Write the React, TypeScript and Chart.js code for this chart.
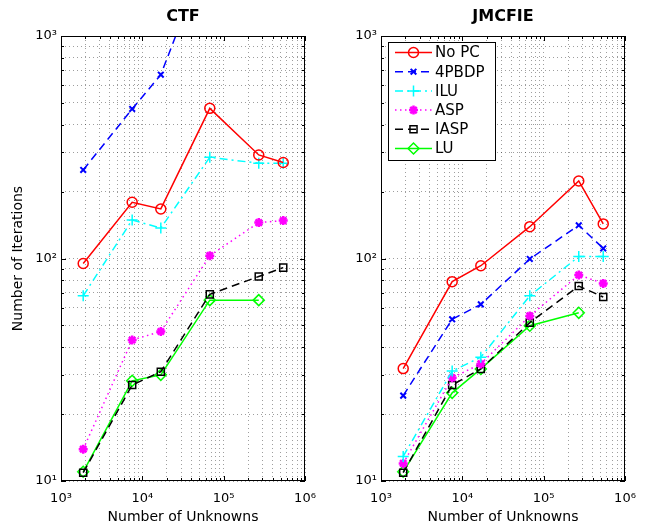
import React, { useEffect, useRef } from 'react';
import { Chart, registerables } from 'chart.js';
import { drawPoint } from 'chart.js/helpers';

Chart.register(...registerables);

// ---------- data ----------
const unknowns = [1875, 7500, 16875, 67500, 270000, 540000];
const seriesNames = ['No PC', '4PBDP', 'ILU', 'ASP', 'IASP', 'LU'];

const ctfNoPC = [95, 179, 167, 473, 292, 270];
const ctf4PBDP = [250, 470, 670, 2500, null, null];
const ctfILU = [68, 149, 137, 285, 268, 268];
const ctfASP = [13.9, 43, 47, 103, 145, 148];
const ctfIASP = [10.9, 27, 31, 69, 83, 91];
const ctfLU = [11, 28.2, 30, 65, 65, null];

const jmNoPC = [32, 78.7, 92.8, 139, 223, 143];
const jm4PBDP = [24.2, 53.3, 62.2, 99.5, 141, 111];
const jmILU = [12.9, 31.2, 36, 68, 102, 102];
const jmASP = [12, 29.1, 33.6, 55.2, 84.3, 77.3];
const jmIASP = [10.9, 27, 31.9, 51.5, 75.2, 67.1];
const jmLU = [11, 24.9, 31.9, 49.9, 57, null];

const xDecades = [3, 6];
const yDecades = [1, 3];

// ---------- styles ----------
const FONT = 'DejaVu Sans';
const seriesStyles = [
  { color: '#ff0000', dash: [], point: 'circle', radius: 5, pw: 1.5 },
  { color: '#0000ff', dash: [8, 5], point: 'crossRot', radius: 4, pw: 2 },
  { color: '#00ffff', dash: [8, 4, 2, 4], point: 'cross', radius: 5.5, pw: 1.5 },
  { color: '#ff00ff', dash: [1.5, 3.5], point: 'star', radius: 4.5, pw: 2.5 },
  { color: '#000000', dash: [8, 5], point: 'rect', radius: 5, pw: 1.5 },
  { color: '#00ff00', dash: [], point: 'rectRot', radius: 5.5, pw: 1.5 },
];

const SUP: Record<string, string> = {
  '0': '⁰', '1': '¹', '2': '²', '3': '³', '4': '⁴', '5': '⁵', '6': '⁶', '7': '⁷', '8': '⁸', '9': '⁹',
};

function decadeLabel(v: number): string {
  const e = Math.log10(v);
  const r = Math.round(e);
  if (Math.abs(e - r) > 1e-6) return '';
  return '10' + String(r).split('').map((c) => SUP[c]).join('');
}

function logTicks(lo: number, hi: number) {
  const t: { value: number }[] = [];
  for (let e = lo; e < hi; e++) for (let m = 1; m <= 9; m++) t.push({ value: m * Math.pow(10, e) });
  t.push({ value: Math.pow(10, hi) });
  return t;
}

const framePlugin = {
  id: 'matlabFrame',
  afterDatasetsDraw(chart: any) {
    const { ctx, chartArea } = chart;
    const { left, right, top, bottom } = chartArea;
    const xs = chart.scales.x;
    const ys = chart.scales.y;
    ctx.save();
    ctx.setLineDash([]);
    ctx.strokeStyle = '#000';
    ctx.lineWidth = 1;
    ctx.beginPath();
    xs.ticks.forEach((t: any) => {
      const p = Math.round(xs.getPixelForValue(t.value)) + 0.5;
      const len = decadeLabel(t.value) ? 5 : 3;
      ctx.moveTo(p, bottom); ctx.lineTo(p, bottom - len);
      ctx.moveTo(p, top); ctx.lineTo(p, top + len);
    });
    ys.ticks.forEach((t: any) => {
      const p = Math.round(ys.getPixelForValue(t.value)) + 0.5;
      const len = decadeLabel(t.value) ? 5 : 3;
      ctx.moveTo(left, p); ctx.lineTo(left + len, p);
      ctx.moveTo(right, p); ctx.lineTo(right - len, p);
    });
    ctx.stroke();
    ctx.strokeRect(Math.round(left) + 0.5, Math.round(top) + 0.5, Math.round(right - left) - 1, Math.round(bottom - top) - 1);
    ctx.restore();
  },
};

const legendPlugin = {
  id: 'matlabLegend',
  afterDraw(chart: any) {
    const { ctx, chartArea } = chart;
    const x0 = Math.round(chartArea.left) + 7;
    const y0 = Math.round(chartArea.top) + 6;
    const w = 107, h = 118, rowH = 19.2;
    ctx.save();
    ctx.fillStyle = '#fff';
    ctx.fillRect(x0, y0, w, h);
    ctx.strokeStyle = '#000';
    ctx.lineWidth = 1;
    ctx.setLineDash([]);
    ctx.strokeRect(x0 + 0.5, y0 + 0.5, w, h);
    chart.data.datasets.forEach((ds: any, i: number) => {
      const cy = y0 + 10.5 + i * rowH;
      ctx.strokeStyle = ds.borderColor;
      ctx.lineWidth = ds.borderWidth;
      ctx.setLineDash(ds.borderDash || []);
      ctx.beginPath();
      ctx.moveTo(x0 + 7, cy);
      ctx.lineTo(x0 + 44, cy);
      ctx.stroke();
      ctx.setLineDash([]);
      ctx.fillStyle = 'rgba(0,0,0,0)';
      ctx.strokeStyle = ds.pointBorderColor;
      ctx.lineWidth = ds.pointBorderWidth;
      drawPoint(ctx, { pointStyle: ds.pointStyle, radius: ds.pointRadius, rotation: 0, borderWidth: ds.pointBorderWidth } as any, x0 + 25.5, cy);
      ctx.fillStyle = '#000';
      ctx.font = `15px "${FONT}"`;
      ctx.textBaseline = 'middle';
      ctx.textAlign = 'left';
      ctx.fillText(ds.label, x0 + 47, cy + 1);
    });
    ctx.restore();
  },
};

type PanelProps = {
  title: string;
  series: (number | null)[][];
  width: number;
  yAxisWidth: number;
  showYTitle: boolean;
  showLegend: boolean;
  left: number;
};

function Panel({ title, series, width, yAxisWidth, showYTitle, showLegend, left }: PanelProps) {
  const ref = useRef<HTMLCanvasElement | null>(null);
  useEffect(() => {
    if (!ref.current) return;
    const datasets = series.map((vals, i) => {
      const s = seriesStyles[i];
      return {
        label: seriesNames[i],
        data: unknowns.map((x, j) => ({ x, y: vals[j] })),
        borderColor: s.color,
        borderWidth: 1.5,
        borderDash: s.dash,
        pointStyle: s.point,
        pointRadius: s.radius,
        pointBorderWidth: s.pw,
        pointBorderColor: s.color,
        pointBackgroundColor: 'rgba(0,0,0,0)',
        fill: false,
        tension: 0,
        spanGaps: false,
      };
    });
    const gridColor = 'rgba(0,0,0,0.38)';
    const chart = new Chart(ref.current, {
      type: 'line',
      data: { datasets } as any,
      plugins: showLegend ? [framePlugin, legendPlugin] : [framePlugin],
      options: {
        responsive: false,
        animation: false,
        devicePixelRatio: 1,
        layout: { padding: { left: 0, right: 25, top: 0, bottom: 0 } },
        plugins: {
          legend: { display: false },
          tooltip: { enabled: false },
          title: {
            display: true,
            text: title,
            fullSize: false,
            color: '#000',
            font: { family: FONT, size: 16, weight: 'bold' },
            padding: { top: 7, bottom: 9.8 },
          },
        },
        scales: {
          x: {
            type: 'logarithmic',
            min: Math.pow(10, xDecades[0]),
            max: Math.pow(10, xDecades[1]),
            afterBuildTicks: (scale: any) => { scale.ticks = logTicks(xDecades[0], xDecades[1]); },
            afterFit: (scale: any) => { scale.height = 45; },
            ticks: {
              autoSkip: false,
              maxRotation: 0,
              color: '#000',
              padding: 10,
              font: { family: FONT, size: 13 },
              callback: (v: any) => decadeLabel(Number(v)),
            },
            grid: { color: gridColor, lineWidth: 1, drawTicks: false, borderDash: [1, 3] } as any,
            border: { display: false, dash: [1, 3] },
            title: {
              display: true,
              text: 'Number of Unknowns',
              color: '#000',
              font: { family: FONT, size: 14 },
              padding: { top: 0, bottom: 0 },
            },
          },
          y: {
            type: 'logarithmic',
            min: Math.pow(10, yDecades[0]),
            max: Math.pow(10, yDecades[1]),
            afterBuildTicks: (scale: any) => { scale.ticks = logTicks(yDecades[0], yDecades[1]); },
            afterFit: (scale: any) => { scale.width = yAxisWidth; },
            ticks: {
              autoSkip: false,
              color: '#000',
              padding: 4,
              font: { family: FONT, size: 13 },
              callback: (v: any) => decadeLabel(Number(v)),
            },
            grid: { color: gridColor, lineWidth: 1, drawTicks: false, borderDash: [1, 3] } as any,
            border: { display: false, dash: [1, 3] },
            title: {
              display: showYTitle,
              text: 'Number of Iterations',
              color: '#000',
              font: { family: FONT, size: 14 },
              padding: { top: 10, bottom: 0 },
            },
          },
        },
      } as any,
    });
    return () => chart.destroy();
  }, []);
  return (
    <canvas
      ref={ref}
      width={width}
      height={526}
      style={{ position: 'absolute', left, top: 0, width, height: 526 }}
    />
  );
}

export default function App() {
  const ctfSeries = [ctfNoPC, ctf4PBDP, ctfILU, ctfASP, ctfIASP, ctfLU];
  const jmSeries = [jmNoPC, jm4PBDP, jmILU, jmASP, jmIASP, jmLU];
  return (
    <div style={{ position: 'absolute', left: 0, top: 0, width: 650, height: 526, background: '#fff' }}>
      <Panel title="CTF" series={ctfSeries} width={330} yAxisWidth={61} showYTitle={true} showLegend={false} left={0} />
      <Panel title="JMCFIE" series={jmSeries} width={320} yAxisWidth={51} showYTitle={false} showLegend={true} left={330} />
    </div>
  );
}
